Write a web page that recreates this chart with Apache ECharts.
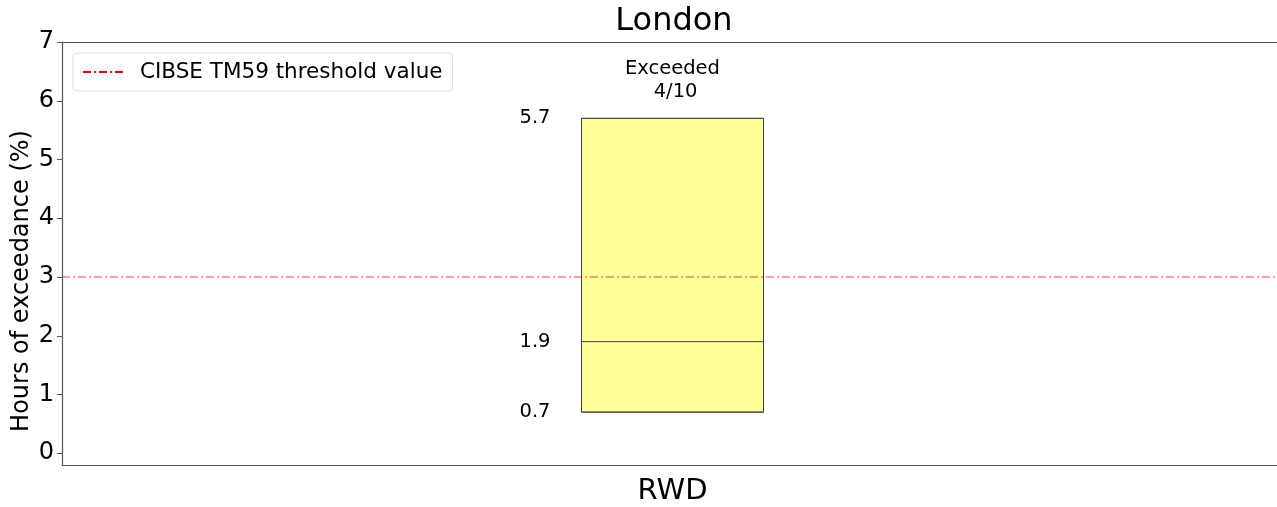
<!DOCTYPE html>
<html>
<head>
<meta charset="utf-8">
<script src="https://cdn.jsdelivr.net/npm/echarts@6/dist/echarts.min.js"></script>
<style>
  html, body { margin: 0; padding: 0; background: #fff; }
  #chart { width: 1277px; height: 507px; }
</style>
</head>
<body>
<div id="chart"></div>
<script>
// Weather file category and summary of exceedance hours (%) for it
const categories = ['RWD'];
const boxLow = [0.7];
const boxMedian = [1.9];
const boxHigh = [5.7];
const exceededCount = [4];
const totalCount = [10];
const threshold = 3;
const yTicks = [0, 1, 2, 3, 4, 5, 6, 7];

const FONT = 'DejaVu Sans';
const LEGEND_NAME = 'CIBSE TM59 threshold value';

const boxData = categories.map((c, i) => [boxLow[i], boxLow[i], boxMedian[i], boxHigh[i], boxHigh[i]]);

// Value labels placed to the left of the box
const valuePoints = [];
categories.forEach((c, i) => {
  [boxLow[i], boxMedian[i], boxHigh[i]].forEach(v => valuePoints.push([c, v]));
});

// "Exceeded n/N" note above each box
const notePoints = categories.map((c, i) => ({
  value: [c, boxHigh[i]],
  note: 'Exceeded\n ' + exceededCount[i] + '/' + totalCount[i]
}));

const chart = echarts.init(document.getElementById('chart'));

chart.setOption({
  animation: false,
  backgroundColor: '#ffffff',
  title: {
    text: 'London',
    left: 669, top: 1, textAlign: 'center',
    textStyle: { fontFamily: FONT, fontSize: 32, fontWeight: 'normal', color: '#000' }
  },
  legend: {
    left: 73, top: 53,
    padding: [8, 10, 8, 9],
    backgroundColor: '#fff',
    borderColor: '#dddddd', borderWidth: 1, borderRadius: 4,
    itemWidth: 42, itemHeight: 20,
    itemStyle: { opacity: 0 },
    textStyle: { fontFamily: FONT, fontSize: 21.5, color: '#000', padding: [0, 0, 0, 10] },
    data: [LEGEND_NAME]
  },
  graphic: [{
    type: 'text',
    x: 22, y: 281, rotation: Math.PI / 2,
    style: {
      text: 'Hours of exceedance (%)',
      fontFamily: FONT, fontSize: 24, fill: '#000',
      align: 'center', verticalAlign: 'middle'
    }
  }],
  grid: { left: 62, width: 1221, top: 42, bottom: 42, containLabel: false, outerBoundsMode: 'none' },
  xAxis: [{
    type: 'category',
    data: categories,
    axisLine: { show: true, onZero: false, lineStyle: { color: '#555', width: 1.2 } },
    axisTick: { show: false },
    axisLabel: { fontFamily: FONT, fontSize: 29, color: '#000', margin: 12 },
    splitLine: { show: false }
  }, {
    type: 'category',
    position: 'top',
    data: categories,
    axisLine: { show: true, onZero: false, lineStyle: { color: '#555', width: 1.2 } },
    axisTick: { show: false },
    axisLabel: { show: false }
  }],
  yAxis: {
    type: 'value',
    min: -0.2, max: 7,
    axisLine: { show: true, lineStyle: { color: '#555', width: 1.2 } },
    axisTick: { show: true, length: 5, customValues: yTicks, lineStyle: { color: '#555' } },
    axisLabel: { customValues: yTicks, fontFamily: FONT, fontSize: 24, color: '#000', margin: 8 },
    splitLine: { show: false }
  },
  series: [
    {
      name: 'box',
      type: 'boxplot',
      data: boxData,
      boxWidth: [182, 182],
      itemStyle: { color: '#ffff99', borderColor: '#444', borderWidth: 1 },
      emphasis: { disabled: true },
      z: 2
    },
    {
      name: LEGEND_NAME,
      type: 'line',
      data: [],
      symbol: 'none',
      itemStyle: { color: '#ff0000' },
      lineStyle: { color: '#ff0000', width: 1.5, type: [8, 3, 2, 3] },
      markLine: {
        silent: true,
        symbol: 'none',
        label: { show: false },
        lineStyle: { color: 'rgba(255,0,0,0.5)', width: 1.5, type: [8, 3, 2, 3] },
        data: [{ yAxis: threshold }]
      },
      z: 3
    },
    {
      name: 'values',
      type: 'scatter',
      data: valuePoints,
      symbolSize: 0,
      itemStyle: { opacity: 1 },
      label: {
        show: true, position: 'left', distance: 122,
        formatter: p => p.value[1].toFixed(1),
        fontFamily: FONT, fontSize: 19.5, color: '#000'
      },
      z: 4
    },
    {
      name: 'notes',
      type: 'scatter',
      data: notePoints,
      symbolSize: 0,
      itemStyle: { opacity: 1 },
      label: {
        show: true, position: 'top', distance: 15,
        formatter: p => p.data.note,
        fontFamily: FONT, fontSize: 19.5, color: '#000', align: 'center', lineHeight: 23
      },
      z: 4
    }
  ]
});
</script>
</body>
</html>
